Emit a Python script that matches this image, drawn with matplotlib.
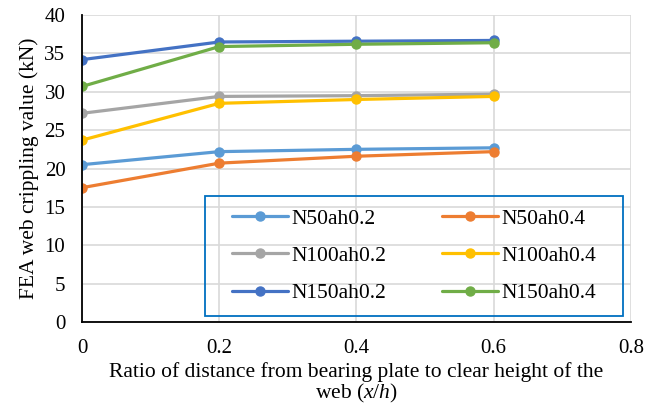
import matplotlib.pyplot as plt
from matplotlib.patches import Rectangle

# data
x = [0, 0.2, 0.4, 0.6]
n50_02 = [20.5, 22.2, 22.5, 22.7]
n50_04 = [17.5, 20.7, 21.6, 22.2]
n100_02 = [27.2, 29.4, 29.5, 29.7]
n100_04 = [23.7, 28.5, 29.0, 29.4]
n150_02 = [34.2, 36.5, 36.6, 36.7]
n150_04 = [30.7, 35.9, 36.2, 36.4]

labels = ['N50ah0.2', 'N50ah0.4', 'N100ah0.2', 'N100ah0.4', 'N150ah0.2', 'N150ah0.4']
colors = ['#5B9BD5', '#ED7D31', '#A5A5A5', '#FFC000', '#4472C4', '#70AD47']
series = [n50_02, n50_04, n100_02, n100_04, n150_02, n150_04]

plt.rcParams['font.family'] = ['Liberation Serif', 'DejaVu Serif']
plt.rcParams['mathtext.fontset'] = 'custom'
plt.rcParams['mathtext.it'] = 'Liberation Serif:italic'
plt.rcParams['mathtext.rm'] = 'Liberation Serif'

fig = plt.figure(figsize=(6.62, 4.09), dpi=100)
ax = fig.add_axes([0.124, 0.213, 0.829, 0.750])

lines = []
for ys, lab, c in zip(series, labels, colors):
    ln, = ax.plot(x, ys, color=c, lw=2.3, marker='o', ms=6.5, label=lab, solid_capstyle='round')
    lines.append(ln)

ax.set_xlim(0, 0.8)
ax.set_ylim(0, 40)
ax.set_xticks([0, 0.2, 0.4, 0.6, 0.8])
ax.set_xticklabels(['0', '0.2', '0.4', '0.6', '0.8'])
ax.set_yticks(range(0, 41, 5))
ax.grid(True, color='#D9D9D9', lw=1.2)
ax.set_axisbelow(True)
for s in ['top', 'right']:
    ax.spines[s].set_visible(False)
ax.spines['left'].set_linewidth(1.3)
ax.spines['bottom'].set_linewidth(1.3)
ax.tick_params(length=0, labelsize=15)
ax.tick_params(axis='y', pad=12)
ax.tick_params(axis='x', pad=12)

ax.set_xlabel('Ratio of distance from bearing plate to clear height of the\nweb ($x$/$h$)',
              fontsize=15.5, labelpad=3, linespacing=1.05)
ax.set_ylabel('FEA web crippling value (kN)', fontsize=15.5, labelpad=4)

# legend box (transparent, blue outline) like the spreadsheet chart
ax.add_patch(Rectangle((0.224, 0.02), 0.761, 0.39, transform=ax.transAxes,
                       fill=False, edgecolor='#0070C0', lw=1.3, zorder=5))

# row-wise order in a 2-column legend
order = [0, 2, 4, 1, 3, 5]
leg = ax.legend([lines[i] for i in order], [labels[i] for i in order],
                ncol=2, loc='center', bbox_to_anchor=(0.605, 0.215),
                fontsize=15.5, frameon=False,
                handlelength=2.6, handletextpad=0.15, columnspacing=2.6,
                labelspacing=0.8, borderaxespad=0, borderpad=0)

plt.savefig('out.png', dpi=100)
